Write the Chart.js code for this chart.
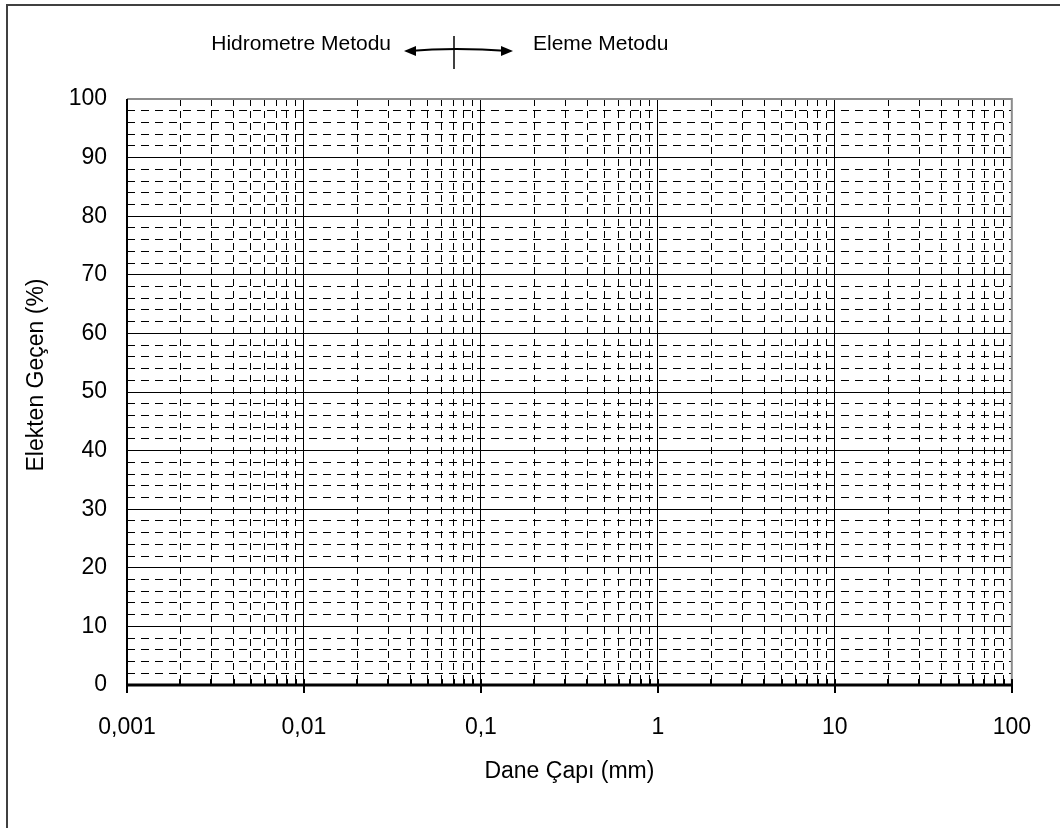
<!DOCTYPE html>
<html>
<head>
<meta charset="utf-8">
<script src="https://cdn.jsdelivr.net/npm/chart.js@4"></script>
<style>
  body { margin: 0; background: #fff; }
</style>
</head>
<body>
<canvas id="grainChart" width="1060" height="828"></canvas>
<script>
// grain size chart: empty sieve / hydrometer template
const xMajorTicks = [0.001, 0.01, 0.1, 1, 10, 100];
const xTickLabels = ['0,001', '0,01', '0,1', '1', '10', '100'];
const xMinorSteps = [2, 3, 4, 5, 6, 7, 8, 9];
const yTicks = [0, 2, 4, 6, 8, 10, 12, 14, 16, 18, 20, 22, 24, 26, 28, 30, 32, 34, 36, 38, 40,
  42, 44, 46, 48, 50, 52, 54, 56, 58, 60, 62, 64, 66, 68, 70, 72, 74, 76, 78, 80,
  82, 84, 86, 88, 90, 92, 94, 96, 98, 100];
const yTickLabels = ['0', '10', '20', '30', '40', '50', '60', '70', '80', '90', '100'];
const passingPoints = [];
const methodSplit = 0.07;
const methodLabels = ['Hidrometre Metodu', 'Eleme Metodu'];
const xTitle = 'Dane Çapı (mm)';
const yTitle = 'Elekten Geçen (%)';

const FONT = '"Liberation Sans", Arial, sans-serif';

var xTicks = [];
for (var i = 0; i < xMajorTicks.length; i++) {
    xTicks.push(xMajorTicks[i]);
    if (i < xMajorTicks.length - 1) {
        xMinorSteps.forEach(s => xTicks.push(+(xMajorTicks[i] * s).toPrecision(6)));
    }
}

function isMajorX(v) { return xMajorTicks.indexOf(v) >= 0; }
function isMajorY(v) { return yTickLabels.indexOf(String(v)) >= 0; }

const decorations = {
    id: 'decorations',
    afterDraw(chart) {
        const ctx = chart.ctx;
        const a = chart.chartArea;
        const xs = chart.scales.x;

        ctx.save();
        // outer frame
        ctx.strokeStyle = '#404040';
        ctx.lineWidth = 2;
        ctx.strokeRect(7, 5, 1200, 1000);

        // plot border (gray top + right)
        ctx.strokeStyle = '#8c8c8c';
        ctx.lineWidth = 2;
        ctx.beginPath();
        ctx.moveTo(a.left, a.top);
        ctx.lineTo(a.right, a.top);
        ctx.lineTo(a.right, a.bottom);
        ctx.stroke();

        // axes
        ctx.strokeStyle = '#000';
        ctx.lineWidth = 2;
        ctx.beginPath();
        ctx.moveTo(a.left, a.top);
        ctx.lineTo(a.left, a.bottom);
        ctx.stroke();
        ctx.lineWidth = 3;
        ctx.beginPath();
        ctx.moveTo(a.left - 1, a.bottom);
        ctx.lineTo(a.right + 1, a.bottom);
        ctx.stroke();

        // x tick marks
        ctx.lineWidth = 2;
        xTicks.forEach(v => {
            const px = Math.round(xs.getPixelForValue(v));
            ctx.beginPath();
            ctx.moveTo(px, a.bottom - 6);
            ctx.lineTo(px, isMajorX(v) ? a.bottom + 8 : a.bottom);
            ctx.stroke();
        });

        // method annotation
        const sx = Math.round(xs.getPixelForValue(methodSplit));
        ctx.fillStyle = '#000';
        ctx.font = '21px ' + FONT;
        ctx.textBaseline = 'alphabetic';
        ctx.textAlign = 'right';
        ctx.fillText(methodLabels[0], sx - 63, 50);
        ctx.textAlign = 'left';
        ctx.fillText(methodLabels[1], sx + 79, 50);

        ctx.lineWidth = 2;
        ctx.beginPath();
        ctx.moveTo(sx - 45, 51);
        ctx.quadraticCurveTo(sx, 47, sx + 55, 51);
        ctx.stroke();
        ctx.beginPath();
        ctx.moveTo(sx - 50, 51);
        ctx.lineTo(sx - 38, 46);
        ctx.lineTo(sx - 38, 56);
        ctx.closePath();
        ctx.fill();
        ctx.beginPath();
        ctx.moveTo(sx + 59, 51);
        ctx.lineTo(sx + 47, 46);
        ctx.lineTo(sx + 47, 56);
        ctx.closePath();
        ctx.fill();
        ctx.lineWidth = 1.5;
        ctx.beginPath();
        ctx.moveTo(sx, 36);
        ctx.lineTo(sx, 69);
        ctx.stroke();

        // axis titles
        ctx.font = '23px ' + FONT;
        ctx.textAlign = 'center';
        ctx.textBaseline = 'middle';
        ctx.fillText(xTitle, (a.left + a.right) / 2, 772);
        ctx.translate(37, 375);
        ctx.rotate(-Math.PI / 2);
        ctx.fillText(yTitle, 0, 0);
        ctx.restore();
    }
};

var ctxGrain = document.getElementById('grainChart').getContext('2d');
var grainChart = new Chart(ctxGrain, {
    type: 'scatter',
    data: {
        datasets: [{
            label: 'Elekten Geçen',
            data: passingPoints,
            borderColor: '#000',
            backgroundColor: '#000'
        }]
    },
    options: {
        responsive: false,
        animation: false,
        layout: { padding: { top: 99, right: 47, left: 0, bottom: 0 } },
        plugins: {
            legend: { display: false },
            tooltip: { enabled: false }
        },
        scales: {
            x: {
                type: 'logarithmic',
                min: 0.001,
                max: 100,
                afterBuildTicks: scale => { scale.ticks = xTicks.map(v => ({ value: v })); },
                afterFit: scale => { scale.height = 828 - 685; },
                border: {
                    display: false,
                    dash: ctx => (ctx.tick && !isMajorX(ctx.tick.value)) ? [7, 5] : []
                },
                grid: {
                    color: '#000',
                    lineWidth: 1,
                    drawTicks: false
                },
                ticks: {
                    autoSkip: false,
                    maxRotation: 0,
                    padding: 29,
                    color: '#000',
                    font: { family: FONT, size: 23 },
                    callback: function(value) {
                        var k = xMajorTicks.indexOf(value);
                        return k >= 0 ? xTickLabels[k] : '';
                    }
                }
            },
            y: {
                type: 'linear',
                min: 0,
                max: 100,
                afterBuildTicks: scale => { scale.ticks = yTicks.map(v => ({ value: v })); },
                afterFit: scale => { scale.width = 127; },
                border: {
                    display: false,
                    dash: ctx => (ctx.tick && !isMajorY(ctx.tick.value)) ? [8, 6] : []
                },
                grid: {
                    color: '#000',
                    lineWidth: 1,
                    drawTicks: false
                },
                ticks: {
                    autoSkip: false,
                    padding: 20,
                    color: '#000',
                    font: { family: FONT, size: 23 },
                    callback: function(value) {
                        return isMajorY(value) ? String(value) : '';
                    }
                }
            }
        }
    },
    plugins: [decorations]
});
</script>
</body>
</html>
